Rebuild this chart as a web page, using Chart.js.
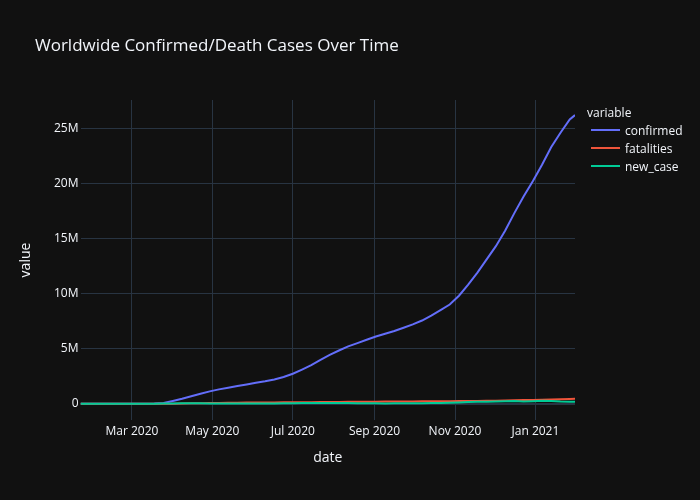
<!DOCTYPE html>
<html>
<head>
<meta charset="utf-8">
<script src="https://cdn.jsdelivr.net/npm/chart.js@4/dist/chart.umd.min.js"></script>
<style>
  body { margin: 0; background: #111111; }
  canvas { display: block; }
</style>
</head>
<body>
<canvas id="casesChart" width="700" height="500"></canvas>
<script>
// weekly samples, values in millions
const dates = [
  '2020-01-22', '2020-01-29', '2020-02-05', '2020-02-12', '2020-02-19', '2020-02-26',
  '2020-03-04', '2020-03-11', '2020-03-18', '2020-03-25', '2020-04-01', '2020-04-08',
  '2020-04-15', '2020-04-22', '2020-04-29', '2020-05-06', '2020-05-13', '2020-05-20',
  '2020-05-27', '2020-06-03', '2020-06-10', '2020-06-17', '2020-06-24', '2020-07-01',
  '2020-07-08', '2020-07-15', '2020-07-22', '2020-07-29', '2020-08-05', '2020-08-12',
  '2020-08-19', '2020-08-26', '2020-09-02', '2020-09-09', '2020-09-16', '2020-09-23',
  '2020-09-30', '2020-10-07', '2020-10-14', '2020-10-21', '2020-10-28', '2020-11-04',
  '2020-11-11', '2020-11-18', '2020-11-25', '2020-12-02', '2020-12-09', '2020-12-16',
  '2020-12-23', '2020-12-30', '2021-01-06', '2021-01-13', '2021-01-20', '2021-01-27',
  '2021-01-31'
];
const confirmed = [
  0, 0, 0, 0, 0, 0,
  0.0002, 0.001, 0.008, 0.066, 0.25, 0.45,
  0.68, 0.9, 1.12, 1.3, 1.45, 1.6,
  1.75, 1.9, 2.04, 2.2, 2.42, 2.72,
  3.1, 3.5, 3.97, 4.43, 4.83, 5.2,
  5.5, 5.8, 6.1, 6.35, 6.6, 6.9,
  7.2, 7.55, 8.0, 8.5, 9.0, 9.8,
  10.8, 11.9, 13.1, 14.3, 15.7, 17.3,
  18.8, 20.2, 21.7, 23.3, 24.6, 25.8,
  26.2
];
const fatalities = [
  0, 0, 0, 0, 0, 0,
  0, 0, 0.0001, 0.001, 0.005, 0.015,
  0.03, 0.047, 0.061, 0.073, 0.084, 0.094,
  0.1, 0.107, 0.113, 0.118, 0.122, 0.128,
  0.132, 0.137, 0.143, 0.151, 0.159, 0.167,
  0.174, 0.181, 0.187, 0.192, 0.197, 0.202,
  0.207, 0.212, 0.217, 0.222, 0.228, 0.235,
  0.243, 0.252, 0.263, 0.276, 0.292, 0.31,
  0.328, 0.345, 0.365, 0.387, 0.41, 0.43,
  0.438
];
const newCase = [
  0, 0, 0, 0, 0, 0,
  0.0001, 0.0005, 0.005, 0.013, 0.026, 0.032,
  0.03, 0.03, 0.029, 0.025, 0.021, 0.023,
  0.019, 0.02, 0.022, 0.025, 0.037, 0.05,
  0.062, 0.067, 0.071, 0.068, 0.054, 0.055,
  0.045, 0.043, 0.043, 0.028, 0.038, 0.039,
  0.042, 0.05, 0.059, 0.062, 0.079, 0.105,
  0.143, 0.17, 0.18, 0.2, 0.22, 0.245,
  0.195, 0.23, 0.26, 0.24, 0.2, 0.18,
  0.17
];
const xTickDates = ['2020-03-01', '2020-05-01', '2020-07-01', '2020-09-01', '2020-11-01', '2021-01-01'];
const xTickLabels = ['Mar 2020', 'May 2020', 'Jul 2020', 'Sep 2020', 'Nov 2020', 'Jan 2021'];
const yTicks = [0, 5, 10, 15, 20, 25];
const seriesNames = ['confirmed', 'fatalities', 'new_case'];
const seriesColors = ['#636efa', '#EF553B', '#00cc96'];

const FONT = '"Open Sans", sans-serif';
const TEXT = '#f2f5fa';
const GRID = '#283442';

function toPoints(vals) {
  return dates.map((d, i) => ({ x: Date.parse(d), y: vals[i] }));
}

// title and legend drawn like plotly does
const plotlyText = {
  id: 'plotlyText',
  afterDraw(chart) {
    const ctx = chart.ctx;
    ctx.save();
    ctx.fillStyle = TEXT;
    ctx.textBaseline = 'middle';
    ctx.textAlign = 'left';
    ctx.font = '17px ' + FONT;
    ctx.fillText('Worldwide Confirmed/Death Cases Over Time', 35, 46);
    ctx.font = '12px ' + FONT;
    ctx.fillText('variable', 587, 113.5);
    seriesNames.forEach((name, i) => {
      const y = 130 + i * 18;
      ctx.strokeStyle = seriesColors[i];
      ctx.lineWidth = 2;
      ctx.beginPath();
      ctx.moveTo(591, y);
      ctx.lineTo(620, y);
      ctx.stroke();
      ctx.fillStyle = TEXT;
      ctx.fillText(name, 625, y + 1.5);
    });
    ctx.restore();
  }
};

new Chart(document.getElementById('casesChart'), {
  type: 'line',
  data: {
    datasets: [
      { label: seriesNames[0], data: toPoints(confirmed), borderColor: seriesColors[0], order: 3 },
      { label: seriesNames[1], data: toPoints(fatalities), borderColor: seriesColors[1], order: 2 },
      { label: seriesNames[2], data: toPoints(newCase), borderColor: seriesColors[2], order: 1 }
    ]
  },
  options: {
    responsive: false,
    animation: false,
    layout: { padding: { top: 100, right: 125, left: 0, bottom: 0 } },
    elements: {
      point: { radius: 0 },
      line: { borderWidth: 2, tension: 0 }
    },
    plugins: {
      legend: { display: false },
      title: { display: false },
      tooltip: { enabled: false }
    },
    scales: {
      x: {
        type: 'linear',
        min: Date.parse(dates[0]),
        max: Date.parse(dates[dates.length - 1]),
        afterBuildTicks: (scale) => { scale.ticks = xTickDates.map(d => ({ value: Date.parse(d) })); },
        afterFit: (scale) => { scale.height = 80; },
        grid: { color: GRID, lineWidth: 1, drawTicks: false },
        border: { display: false },
        ticks: {
          color: TEXT, font: { family: FONT, size: 12 }, padding: 4, maxRotation: 0,
          callback: (v, i) => xTickLabels[i]
        },
        title: { display: true, text: 'date', color: TEXT, font: { family: FONT, size: 14 }, padding: { bottom: 34 } }
      },
      y: {
        min: -1.48,
        max: 27.57,
        afterBuildTicks: (scale) => { scale.ticks = yTicks.map(v => ({ value: v })); },
        afterFit: (scale) => { scale.width = 80.5; },
        grid: {
          color: GRID,
          lineWidth: (c) => (c.tick && c.tick.value === 0 ? 2 : 1),
          drawTicks: false
        },
        border: { display: false },
        ticks: {
          color: TEXT, font: { family: FONT, size: 12 }, padding: 2,
          callback: (v) => (v === 0 ? '0' : v + 'M')
        },
        title: { display: true, text: 'value', color: TEXT, font: { family: FONT, size: 14 }, padding: { top: 18 } }
      }
    }
  },
  plugins: [plotlyText]
});
</script>
</body>
</html>
